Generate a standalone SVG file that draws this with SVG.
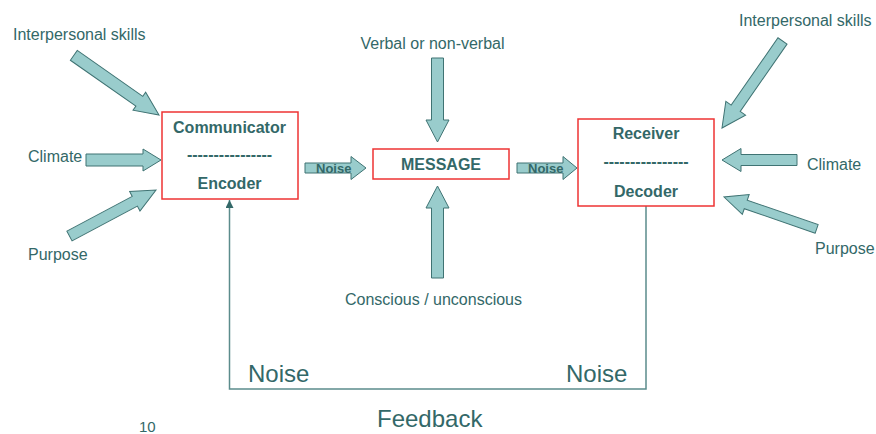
<svg xmlns="http://www.w3.org/2000/svg" width="876" height="434" viewBox="0 0 876 434">
  <style>
    .lbl { font-family: "Liberation Sans", Arial, sans-serif; font-size: 16px; fill: #336868; }
    .big { font-family: "Liberation Sans", Arial, sans-serif; font-size: 24px; fill: #336868; }
    .bold { font-family: "Liberation Sans", Arial, sans-serif; font-size: 16px; font-weight: bold; fill: #336868; text-anchor: middle; }
    .tag { font-family: "Liberation Sans", Arial, sans-serif; font-size: 13px; font-weight: bold; fill: #336868; }
    .box { fill: #ffffff; stroke: #EE3333; stroke-width: 1.5; }
    .blk { fill: #99CCCC; stroke: #3F7373; stroke-width: 1; stroke-linejoin: miter; }
    .fb { fill: none; stroke: #5B8C8C; stroke-width: 1.5; }
  </style>
  <defs>
    <marker id="fbHead" viewBox="0 0 8 8" refX="8" refY="4" markerWidth="8" markerHeight="8" markerUnits="userSpaceOnUse" orient="auto">
      <path d="M0,0 L8,4 L0,8 Z" fill="#336868"/>
    </marker>
  </defs>

  <rect width="876" height="434" fill="#ffffff"/>

  <!-- feedback loop and block arrows -->
  <g id="connectors">
    <polyline class="fb" points="646,206 646,389 229.5,389 229.5,200" marker-end="url(#fbHead)"/>

    <!-- inputs to the communicator -->
    <polygon class="blk" transform="translate(159,115) rotate(35)" points="-104,-6 -24,-6 -24,-11 0,0 -24,11 -24,6 -104,6"/>
    <polygon class="blk" transform="translate(161,160)" points="-75,-6 -18,-6 -18,-11 0,0 -18,11 -18,6 -75,6"/>
    <polygon class="blk" transform="translate(156,190) rotate(-28)" points="-98,-5.5 -24,-5.5 -24,-11 0,0 -24,11 -24,5.5 -98,5.5"/>

    <!-- noise arrows between the boxes -->
    <polygon class="blk" transform="translate(366,168)" points="-61,-5 -15,-5 -15,-11.5 0,0 -15,11.5 -15,5 -61,5"/>
    <polygon class="blk" transform="translate(577,168)" points="-60,-5 -14,-5 -14,-11.5 0,0 -14,11.5 -14,5 -60,5"/>

    <!-- inputs to the message -->
    <polygon class="blk" transform="translate(437.5,142) rotate(90)" points="-84,-6 -22,-6 -22,-11.5 0,0 -22,11.5 -22,6 -84,6"/>
    <polygon class="blk" transform="translate(437.5,186) rotate(-90)" points="-92,-6 -22,-6 -22,-11.5 0,0 -22,11.5 -22,6 -92,6"/>

    <!-- inputs to the receiver -->
    <polygon class="blk" transform="translate(722,128) rotate(124.8)" points="-106,-5.5 -24,-5.5 -24,-12 0,0 -24,12 -24,5.5 -106,5.5"/>
    <polygon class="blk" transform="translate(722,160) rotate(180)" points="-75,-5.5 -19,-5.5 -19,-11.5 0,0 -19,11.5 -19,5.5 -75,5.5"/>
    <polygon class="blk" transform="translate(724,197) rotate(199)" points="-98,-4.5 -23,-4.5 -23,-10.5 0,0 -23,10.5 -23,4.5 -98,4.5"/>

    <text class="tag" x="316" y="173">Noise</text>
    <text class="tag" x="528" y="173">Noise</text>
  </g>

  <g id="communicator">
    <rect class="box" x="162" y="112" width="136" height="87"/>
    <text class="bold" x="229.5" y="133">Communicator</text>
    <text class="bold" x="229.5" y="160">----------------</text>
    <text class="bold" x="229.5" y="189">Encoder</text>
  </g>

  <g id="message">
    <rect class="box" x="373" y="149" width="136" height="30"/>
    <text class="bold" x="441" y="170">MESSAGE</text>
  </g>

  <g id="receiver">
    <rect class="box" x="578" y="119" width="136" height="87"/>
    <text class="bold" x="646" y="139">Receiver</text>
    <text class="bold" x="646" y="167">----------------</text>
    <text class="bold" x="646" y="197">Decoder</text>
  </g>

  <g id="labels">
    <text class="lbl" x="13" y="40">Interpersonal skills</text>
    <text class="lbl" x="28" y="162">Climate</text>
    <text class="lbl" x="28" y="260">Purpose</text>
    <text class="lbl" x="432.5" y="49" text-anchor="middle">Verbal or non-verbal</text>
    <text class="lbl" x="433.5" y="305" text-anchor="middle">Conscious / unconscious</text>
    <text class="lbl" x="739" y="26">Interpersonal skills</text>
    <text class="lbl" x="807" y="170">Climate</text>
    <text class="lbl" x="815" y="254">Purpose</text>
    <text class="big" x="248" y="382">Noise</text>
    <text class="big" x="566" y="382">Noise</text>
    <text class="big" x="377" y="427">Feedback</text>
    <text class="lbl" x="139" y="432" style="font-size:15px">10</text>
  </g>
</svg>
